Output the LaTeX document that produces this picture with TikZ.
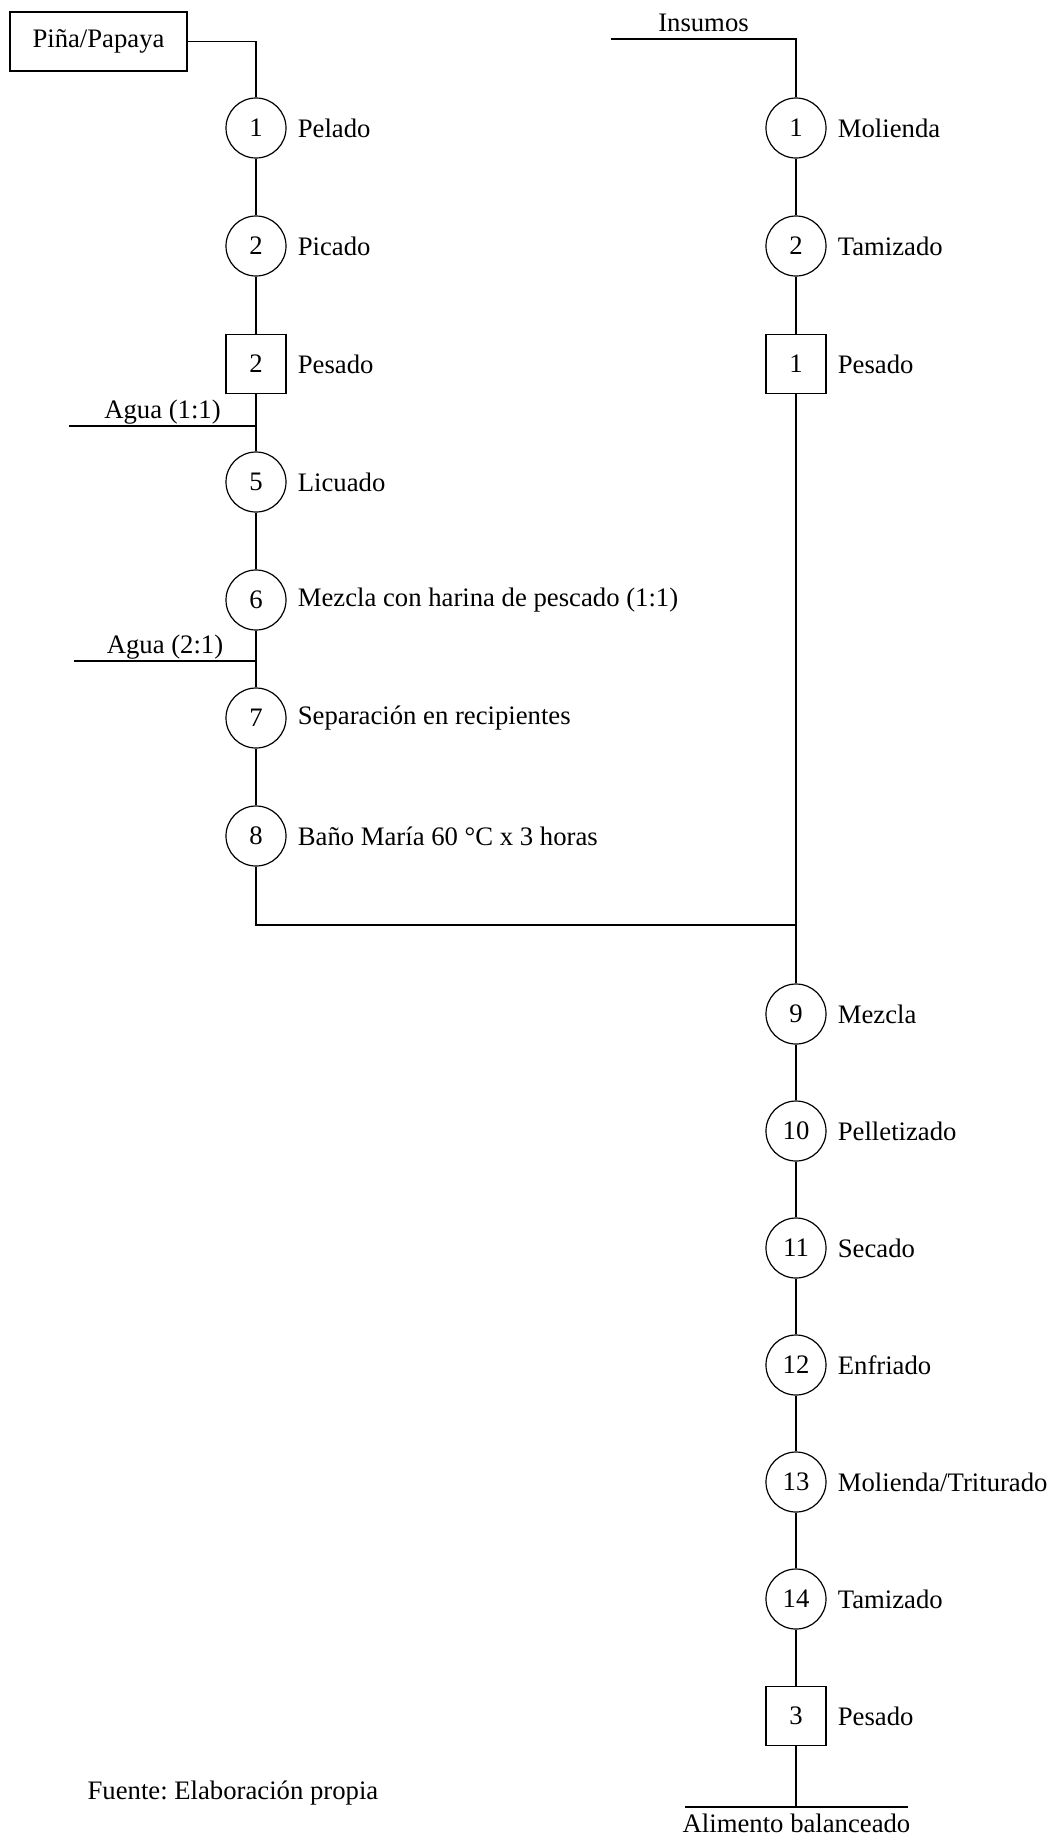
\documentclass[tikz,border=0pt]{standalone}
\usepackage{fontspec}
\setmainfont{Liberation Serif}
\frenchspacing
\usetikzlibrary{positioning}
\tikzset{font=\fontsize{13.35}{16}\selectfont}
\tikzstyle{op} = [circle, draw=black, minimum size=30pt, inner sep=0pt,%
text centered]
\tikzstyle{chk} = [rectangle, draw=black, minimum width=30pt,%
minimum height=29.5pt, inner sep=0pt, text centered]
\tikzstyle{raw} = [rectangle, draw=black, minimum width=88.5pt,%
minimum height=29.5pt, text centered]
\tikzstyle{tag} = [anchor=base, yshift=4pt]
\tikzstyle{line} = [line width=0.6pt]

\begin{document}
\begin{tikzpicture}[x=0.5pt, y=-0.5pt, node distance=59pt, line width=0.6pt]
    \useasboundingbox (0,0) rectangle (1055,1843);

    % fruta
    \node (fruit) [raw] at (98.5,41.5) {Piña/Papaya};
    \node (peel) [op] at (256,128) {1};
    \node (chop) [op, below of=peel] {2};
    \node (weighA) [chk, below of=chop] {2};
    \node (blend) [op, below of=weighA] {5};
    \node (mixFish) [op, below of=blend] {6};
    \node (split) [op, below of=mixFish] {7};
    \node (bath) [op, below of=split] {8};

    \node (peelT) [right=2pt of peel] {Pelado};
    \node (chopT) [right=2pt of chop] {Picado};
    \node (weighAT) [right=2pt of weighA] {Pesado};
    \node (blendT) [right=2pt of blend] {Licuado};
    \node (mixFishT) [right=2pt of mixFish] {Mezcla con harina de pescado (1:1)};
    \node (splitT) [right=2pt of split] {Separación en recipientes};
    \node (bathT) [right=2pt of bath] {Baño María 60 °C x 3 horas};

    % insumos
    \node (mill) [op] at (796,128) {1};
    \node (sieve) [op, below of=mill] {2};
    \node (weighB) [chk, below of=sieve] {1};

    \node (millT) [right=2pt of mill] {Molienda};
    \node (sieveT) [right=2pt of sieve] {Tamizado};
    \node (weighBT) [right=2pt of weighB] {Pesado};

    % alimento
    \begin{scope}[node distance=58.5pt]
    \node (mix) [op] at (796,1014) {9};
    \node (pellet) [op, below of=mix] {10};
    \node (dry) [op, below of=pellet] {11};
    \node (cool) [op, below of=dry] {12};
    \node (grind) [op, below of=cool] {13};
    \node (sieveB) [op, below of=grind] {14};
    \node (weighC) [chk, below of=sieveB] {3};
    \end{scope}

    \node (mixT) [right=2pt of mix] {Mezcla};
    \node (pelletT) [right=2pt of pellet] {Pelletizado};
    \node (dryT) [right=2pt of dry] {Secado};
    \node (coolT) [right=2pt of cool] {Enfriado};
    \node (grindT) [right=2pt of grind] {Molienda/Triturado};
    \node (sieveBT) [right=2pt of sieveB] {Tamizado};
    \node (weighCT) [right=2pt of weighC] {Pesado};

    \coordinate (waterA) at (69,426);
    \coordinate (waterB) at (74,661);
    \coordinate (feed) at (611,39);
    \coordinate (join) at (796,925);
    \coordinate (outL) at (685,1807);
    \coordinate (outR) at (908,1807);

    \draw [line] (fruit.east) -| (peel);
    \draw [line] (peel) -- (chop);
    \draw [line] (chop) -- (weighA);
    \draw [line] (weighA) -- (blend);
    \draw [line] (blend) -- (mixFish);
    \draw [line] (mixFish) -- (split);
    \draw [line] (split) -- (bath);
    \draw [line] (waterA) -- node[tag] {Agua (1:1)} (waterA -| blend);
    \draw [line] (waterB) -- node[tag] {Agua (2:1)} (waterB -| split);

    \draw [line] (feed) -| node[tag, pos=0.25] {Insumos} (mill);
    \draw [line] (mill) -- (sieve);
    \draw [line] (sieve) -- (weighB);

    \draw [line] (bath) |- (join);
    \draw [line] (weighB) -- (join) -- (mix);
    \draw [line] (mix) -- (pellet);
    \draw [line] (pellet) -- (dry);
    \draw [line] (dry) -- (cool);
    \draw [line] (cool) -- (grind);
    \draw [line] (grind) -- (sieveB);
    \draw [line] (sieveB) -- (weighC);
    \draw [line] (weighC) -- (weighC |- outL);
    \draw [line] (outL) -- node[below] {Alimento balanceado} (outR);

    \node (src) [anchor=west, inner sep=0pt] at (87,1793) {Fuente: Elaboración propia};
\end{tikzpicture}
\end{document}
